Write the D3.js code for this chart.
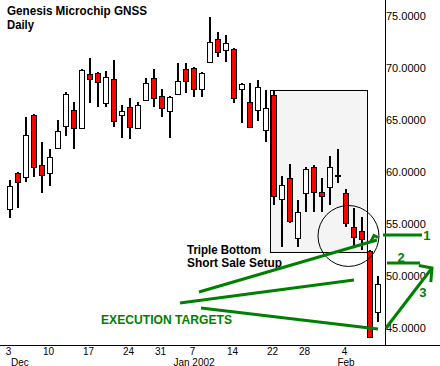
<!DOCTYPE html>
<html><head><meta charset="utf-8">
<script src="https://cdn.jsdelivr.net/npm/d3@7"></script>
<style>html,body{margin:0;padding:0;background:#fff;}svg{display:block;}</style>
</head><body><svg id="c" width="440" height="366"></svg>
<script>
const dates = ["Dec 3","Dec 4","Dec 5","Dec 6","Dec 7","Dec 10","Dec 11","Dec 12","Dec 13","Dec 14","Dec 17","Dec 18","Dec 19","Dec 20","Dec 21","Dec 24","Dec 26","Dec 27","Dec 28","Dec 31","Jan 2","Jan 3","Jan 4","Jan 7","Jan 8","Jan 9","Jan 10","Jan 11","Jan 14","Jan 15","Jan 16","Jan 17","Jan 18","Jan 22","Jan 23","Jan 24","Jan 25","Jan 28","Jan 29","Jan 30","Jan 31","Feb 1","Feb 4","Feb 5","Feb 6","Feb 7","Feb 8"];
const open  = [56.44,59.9,59.5,65.5,60.7,59.9,62.3,64.4,66.0,64.2,69.4,69.5,66.6,68.9,65.5,66.25,64.2,66.9,69.0,67.3,65.9,67.5,69.9,70.0,68.0,70.6,72.8,71.7,71.8,68.0,66.7,66.0,64.0,67.4,57.4,59.4,53.65,58.0,60.5,58.1,58.55,59.7,58.0,54.7,54.3,52.4,46.5];
const high  = [59.2,60.0,65.3,65.6,62.9,62.2,65.0,67.7,66.7,69.9,71.0,69.6,69.7,70.8,66.4,67.1,66.7,69.0,69.9,68.0,67.3,70.5,70.5,70.1,69.6,74.9,73.5,73.2,71.9,68.6,68.6,68.8,67.9,67.8,59.6,60.8,57.3,60.5,60.7,59.4,61.5,62.2,58.4,56.5,55.7,52.5,50.0];
const low   = [55.6,56.5,59.0,59.5,58.0,58.65,62.3,63.5,62.2,64.2,66.6,66.25,66.25,64.3,63.3,63.2,64.2,66.8,66.25,65.3,63.3,67.4,67.6,67.2,67.2,70.5,71.1,70.6,66.6,64.7,64.3,64.9,62.9,56.8,52.8,55.1,52.8,56.15,56.15,56.15,56.8,58.9,54.7,52.8,52.5,44.0,45.6];
const close = [58.65,59.0,63.6,60.5,59.7,61.4,63.9,67.5,64.2,69.8,68.9,68.65,69.1,64.9,65.9,64.3,66.4,68.6,67.1,66.15,67.2,68.75,68.75,68.0,69.5,72.5,71.5,72.4,67.1,68.5,64.3,68.2,66.15,57.7,58.75,55.3,56.15,60.3,58.1,57.7,60.5,59.7,55.1,53.75,53.55,44.1,49.2];
const yTicks = [45,50,55,60,65,70,75];
const xTickIdx = [0,5,10,15,19,23,28,33,37,42];
const xTickLabels = ["3","10","17","24","31","7","14","22","28","4"];
const monthLabels = [{i:0,t:"Dec"},{i:23,t:"Jan 2002"},{i:42,t:"Feb"}];

const svg = d3.select("#c");
const x = d3.scaleLinear().domain([0,46]).range([10,378]);
const y = d3.scaleLinear().domain([45,75]).range([328,16]);
const GREEN = "#008000";
const FONT = "Liberation Sans, Arial, sans-serif";

// setup box
svg.append("rect").attr("x",x(32.5)+0.5).attr("y",y(67.885)+0.5)
  .attr("width",x(44.625)-x(32.5)).attr("height",y(52.31)-y(67.885))
  .attr("fill","#f4f4f4").attr("stroke","#000").attr("stroke-width",1);

// candles
const data = dates.map((d,i)=>({i,o:open[i],h:high[i],l:low[i],c:close[i]}));
const g = svg.append("g").attr("shape-rendering","crispEdges");
g.selectAll("line.w").data(data).join("line").attr("class","w")
  .attr("x1",d=>x(d.i)).attr("x2",d=>x(d.i))
  .attr("y1",d=>y(d.h)).attr("y2",d=>y(d.l))
  .attr("stroke","#000").attr("stroke-width",2);
g.selectAll("rect.b").data(data).join("rect").attr("class","b")
  .attr("x",d=>x(d.i)-2.5)
  .attr("y",d=>Math.round(y(Math.max(d.o,d.c)))+0.5)
  .attr("width",5)
  .attr("height",d=>Math.max(1,Math.round(y(Math.min(d.o,d.c)))-Math.round(y(Math.max(d.o,d.c)))))
  .attr("fill",d=>d.c>=d.o?"#fff":"#ff0000")
  .attr("stroke","#000").attr("stroke-width",1);

// circle
svg.append("circle").attr("cx",x(42.31)).attr("cy",y(53.85)).attr("r",x(3.81)-x(0))
  .attr("fill","none").attr("stroke","#000").attr("stroke-width",1);

// axes
svg.append("line").attr("x1",385.5).attr("x2",385.5).attr("y1",0).attr("y2",345)
  .attr("stroke","#000").attr("stroke-width",1);
svg.append("line").attr("x1",0).attr("x2",440).attr("y1",345.5).attr("y2",345.5)
  .attr("stroke","#000").attr("stroke-width",1);

const yAxis = d3.axisRight(y).tickValues(yTicks).tickSize(0).tickPadding(0).tickFormat(d3.format(".4f"));
svg.append("g").attr("transform","translate(386,0)").call(yAxis)
  .call(s=>s.select(".domain").remove())
  .call(s=>s.selectAll("text").attr("font-family",FONT).attr("font-size",11).attr("fill","#000").attr("dy","0.35em"));

svg.append("g").selectAll("text").data(xTickIdx).join("text")
  .attr("x",d=>x(d)-1.5).attr("y",354.5).attr("text-anchor","middle")
  .attr("font-family",FONT).attr("font-size",10)
  .text((d,k)=>xTickLabels[k]);
svg.append("g").selectAll("text").data(monthLabels).join("text")
  .attr("x",d=>d.i===0?11:x(d.i)).attr("y",365.5).attr("text-anchor",d=>d.i===0?"start":"middle")
  .attr("font-family",FONT).attr("font-size",10)
  .text(d=>d.t);

// titles
svg.append("text").attr("x",7).attr("y",14.5).attr("font-family",FONT)
  .attr("font-weight","bold").attr("font-size",13).attr("textLength",140).attr("lengthAdjust","spacingAndGlyphs")
  .text("Genesis Microchip GNSS");
svg.append("text").attr("x",7).attr("y",28.5).attr("font-family",FONT)
  .attr("font-weight","bold").attr("font-size",12).attr("textLength",27).attr("lengthAdjust","spacingAndGlyphs")
  .text("Daily");

// annotation text
svg.append("text").attr("x",187).attr("y",254).attr("font-family",FONT)
  .attr("font-weight","bold").attr("font-size",12).attr("textLength",74).attr("lengthAdjust","spacingAndGlyphs")
  .text("Triple Bottom");
svg.append("text").attr("x",187).attr("y",267).attr("font-family",FONT)
  .attr("font-weight","bold").attr("font-size",12).attr("textLength",95).attr("lengthAdjust","spacingAndGlyphs")
  .text("Short Sale Setup");
svg.append("text").attr("x",101).attr("y",324).attr("font-family",FONT)
  .attr("font-weight","bold").attr("font-size",13).attr("fill",GREEN).attr("textLength",131).attr("lengthAdjust","spacingAndGlyphs")
  .text("EXECUTION TARGETS");

// green lines (data coordinates: index, price)
const gLines = [
  [[23.625,48.46],[45.875,53.46]],
  [[21.25,47.40],[43,49.615]],
  [[23.875,46.92],[46,44.90]],
  [[46.625,53.94],[51.5,53.94]],
  [[47.125,51.25],[51.25,51.25]],
  [[47,45],[52.75,50.77]]
];
const lineGen = d3.line().x(d=>x(d[0])).y(d=>y(d[1]));
svg.append("g").selectAll("path").data(gLines).join("path")
  .attr("d",lineGen).attr("stroke",GREEN).attr("stroke-width",3).attr("fill","none");
// arrowheads
const heads = [
  [[45.1,53.3],[45.5,53.9],[46.0,53.7]],
  [[51.1,51.0],[52.75,50.77],[52.6,49.4]]
];
svg.append("g").selectAll("path").data(heads).join("path")
  .attr("d",lineGen).attr("stroke",GREEN).attr("stroke-width",3).attr("fill","none");

const nums = [{i:52.1,p:53.94,t:"1"},{i:48.9,p:51.8,t:"2"},{i:51.6,p:48.4,t:"3"}];
svg.append("g").selectAll("text").data(nums).join("text")
  .attr("x",d=>x(d.i)).attr("y",d=>y(d.p)).attr("dy","0.35em").attr("text-anchor","middle")
  .attr("font-family",FONT).attr("font-weight","bold").attr("font-size",13)
  .attr("fill",GREEN).text(d=>d.t);
</script></body></html>
